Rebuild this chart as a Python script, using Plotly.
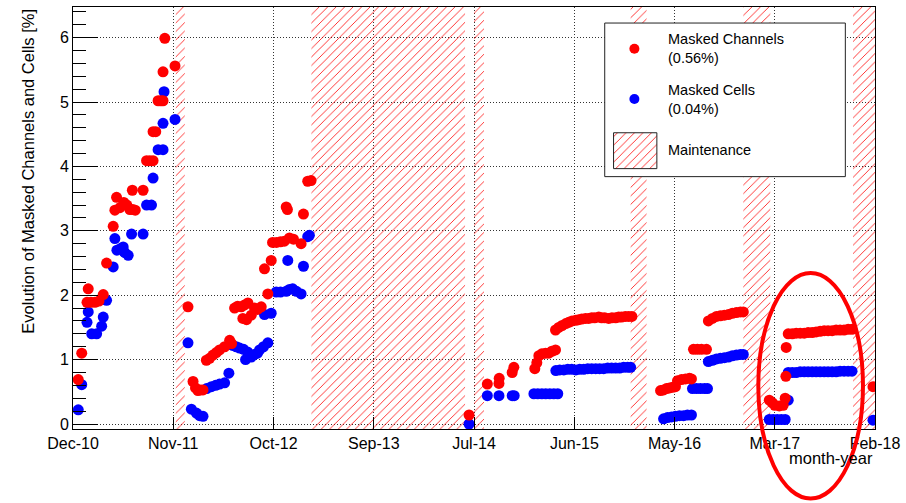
import plotly.graph_objects as go

# ---------------- axis definitions (decimal years; ROOT time axis, equally spaced labels)
tick_labels = ["Dec-10", "Nov-11", "Oct-12", "Sep-13", "Jul-14", "Jun-15", "May-16", "Mar-17", "Feb-18"]
tick_years = [2010.984, 2011.879, 2012.775, 2013.670, 2014.565, 2015.461, 2016.356, 2017.251, 2018.146]
x_range = [2010.984, 2018.146]
y_range = [-0.0775, 6.476]

# ---------------- maintenance periods (decimal years)
maint_start = [2011.902, 2013.113, 2014.565, 2015.964, 2016.970, 2017.950]
maint_end = [2011.982, 2014.485, 2014.654, 2016.106, 2017.211, 2018.146]

# ---------------- masked channels [%]
channels_year = [
    2011.031, 2011.062, 2011.109, 2011.120, 2011.144, 2011.180, 2011.216, 2011.254, 2011.284, 2011.343,
    2011.358, 2011.373, 2011.403, 2011.438, 2011.465, 2011.492, 2011.518, 2011.540, 2011.514, 2011.610,
    2011.641, 2011.670, 2011.699, 2011.699, 2011.723, 2011.744, 2011.768, 2011.788, 2011.788, 2011.804,
    2011.895,
    2012.011, 2012.056, 2012.078, 2012.100, 2012.125, 2012.145, 2012.175, 2012.204, 2012.234, 2012.264,
    2012.293, 2012.338, 2012.383, 2012.400, 2012.427, 2012.454, 2012.487, 2012.516, 2012.546, 2012.501,
    2012.534, 2012.576, 2012.605, 2012.632, 2012.665, 2012.724, 2012.694, 2012.754, 2012.766, 2012.801,
    2012.837, 2012.872, 2012.917, 2012.953, 2013.021, 2012.888, 2012.899, 2013.042, 2013.080, 2013.110,
    2014.521, 2014.684, 2014.788, 2014.790, 2014.906, 2014.921, 2015.108, 2015.126, 2015.144, 2015.171,
    2015.204, 2015.233, 2015.260, 2015.293,
    2015.293, 2015.322, 2015.352, 2015.385, 2015.411, 2015.441, 2015.474, 2015.500, 2015.527, 2015.560,
    2015.589, 2015.616, 2015.643, 2015.679, 2015.705, 2015.732, 2015.768, 2015.797, 2015.830, 2015.857,
    2015.883, 2015.916, 2015.946, 2015.975,
    2016.231, 2016.258, 2016.284, 2016.311, 2016.338, 2016.364, 2016.382, 2016.418, 2016.454, 2016.489,
    2016.507, 2016.525, 2016.560, 2016.596, 2016.641,
    2016.658, 2016.694, 2016.730, 2016.765, 2016.801, 2016.837, 2016.872, 2016.908, 2016.944, 2016.970,
    2017.202, 2017.229, 2017.251, 2017.291, 2017.326, 2017.344, 2017.350, 2017.353,
    2017.371, 2017.407, 2017.442, 2017.478, 2017.514, 2017.549, 2017.585, 2017.620, 2017.656, 2017.692,
    2017.727, 2017.763, 2017.799, 2017.834, 2017.870, 2017.906, 2017.941,
    2018.128,
]
channels_pct = [
    0.69, 1.10, 1.89, 2.10, 1.89, 1.89, 1.91, 2.01, 2.50, 3.07,
    3.32, 3.52, 3.36, 3.44, 3.40, 3.33, 3.33, 3.32, 3.63, 3.63,
    4.09, 4.09, 4.09, 4.54, 4.54, 5.02, 5.02, 5.02, 5.47, 5.99,
    5.56,
    1.82, 0.66, 0.56, 0.52, 0.53, 0.53, 0.99, 1.02, 1.07, 1.11,
    1.15, 1.20, 1.30, 1.25, 1.80, 1.83, 1.82, 1.85, 1.88, 1.64,
    1.62, 1.69, 1.80, 1.78, 1.82, 2.02, 2.41, 2.54, 2.82, 2.82,
    2.83, 2.84, 2.89, 2.87, 2.80, 3.37, 3.33, 3.26, 3.77, 3.78,
    0.14, 0.62, 0.63, 0.71, 0.80, 0.88, 0.86, 0.95, 1.06, 1.09,
    1.10, 1.10, 1.13, 1.15,
    1.46, 1.50, 1.53, 1.56, 1.58, 1.60, 1.61, 1.62, 1.63, 1.64,
    1.64, 1.65, 1.65, 1.66, 1.65, 1.65, 1.64, 1.65, 1.65, 1.66,
    1.66, 1.67, 1.67, 1.67,
    0.52, 0.53, 0.55, 0.56, 0.57, 0.58, 0.67, 0.69, 0.70, 0.71,
    0.70, 1.16, 1.16, 1.16, 1.16,
    1.60, 1.64, 1.67, 1.68, 1.69, 1.70, 1.72, 1.73, 1.74, 1.74,
    0.37, 0.33, 0.29, 0.28, 0.29, 0.40, 0.74, 1.19,
    1.40, 1.40, 1.41, 1.41, 1.41, 1.42, 1.42, 1.43, 1.44, 1.45,
    1.45, 1.45, 1.46, 1.46, 1.46, 1.47, 1.47,
    0.58,
]

# ---------------- masked cells [%]
cells_year = [
    2011.031, 2011.062, 2011.109, 2011.120, 2011.151, 2011.195, 2011.240, 2011.254, 2011.284, 2011.343,
    2011.358, 2011.376, 2011.405, 2011.432, 2011.447, 2011.477, 2011.507, 2011.610, 2011.641, 2011.685,
    2011.699, 2011.744, 2011.788, 2011.788, 2011.797, 2011.895,
    2012.011, 2012.041, 2012.086, 2012.115, 2012.145, 2012.178, 2012.220, 2012.258, 2012.293, 2012.338,
    2012.376, 2012.409, 2012.442, 2012.472, 2012.507, 2012.525, 2012.543, 2012.576, 2012.605, 2012.632,
    2012.650, 2012.685, 2012.724, 2012.694, 2012.754, 2012.799, 2012.837, 2012.888, 2012.917, 2012.946,
    2012.979, 2013.021, 2012.902, 2013.042, 2013.080, 2013.095,
    2014.521, 2014.684, 2014.788, 2014.906, 2014.924,
    2015.100, 2015.135, 2015.171, 2015.206, 2015.242, 2015.278, 2015.313,
    2015.296, 2015.331, 2015.367, 2015.402, 2015.438, 2015.474, 2015.509, 2015.545, 2015.581, 2015.616,
    2015.652, 2015.687, 2015.723, 2015.759, 2015.794, 2015.830, 2015.866, 2015.901, 2015.937, 2015.964,
    2016.258, 2016.293, 2016.329, 2016.364, 2016.400, 2016.436, 2016.471, 2016.507,
    2016.516, 2016.552, 2016.587, 2016.623, 2016.650,
    2016.658, 2016.694, 2016.730, 2016.765, 2016.801, 2016.837, 2016.872, 2016.908, 2016.944, 2016.970,
    2017.202, 2017.237, 2017.273, 2017.309, 2017.344, 2017.371,
    2017.371, 2017.407, 2017.442, 2017.478, 2017.514, 2017.549, 2017.585, 2017.620, 2017.656, 2017.692,
    2017.727, 2017.763, 2017.799, 2017.834, 2017.870, 2017.906, 2017.941,
    2018.128,
]
cells_pct = [
    0.22, 0.61, 1.58, 1.74, 1.40, 1.40, 1.52, 1.66, 1.92, 2.44,
    2.88, 2.70, 2.72, 2.75, 2.66, 2.62, 2.95, 2.95, 3.40, 3.40,
    3.82, 4.26, 4.26, 4.67, 5.16, 4.73,
    1.26, 0.23, 0.17, 0.13, 0.12, 0.55, 0.58, 0.60, 0.62, 0.64,
    0.79, 1.22, 1.20, 1.18, 1.16, 1.00, 1.12, 1.04, 1.08, 1.10,
    1.15, 1.20, 1.26, 1.70, 1.72, 2.05, 2.05, 2.06, 2.09, 2.10,
    2.06, 2.02, 2.54, 2.45, 2.91, 2.93,
    0.00, 0.44, 0.44, 0.44, 0.44,
    0.47, 0.47, 0.47, 0.47, 0.47, 0.47, 0.47,
    0.83, 0.84, 0.84, 0.85, 0.85, 0.84, 0.85, 0.85, 0.86, 0.86,
    0.86, 0.86, 0.86, 0.87, 0.87, 0.87, 0.87, 0.88, 0.88, 0.88,
    0.08, 0.10, 0.11, 0.12, 0.13, 0.13, 0.14, 0.14,
    0.55, 0.55, 0.55, 0.55, 0.55,
    0.97, 0.99, 1.01, 1.02, 1.03, 1.04, 1.06, 1.07, 1.08, 1.08,
    0.07, 0.07, 0.07, 0.07, 0.07, 0.37,
    0.80, 0.80, 0.80, 0.81, 0.81, 0.81, 0.81, 0.81, 0.81, 0.81,
    0.81, 0.81, 0.81, 0.82, 0.82, 0.82, 0.82,
    0.06,
]

legend_labels = ["Masked Channels<br>(0.56%)", "Masked Cells<br>(0.04%)", "Maintenance"]

FONT = "Liberation Sans, Arial, Helvetica, sans-serif"
RED = "#ff0000"
BLUE = "#0000ff"

fig = go.Figure()

# maintenance hatched bands
fig.add_trace(go.Bar(
    x=[(s + e) / 2 for s, e in zip(maint_start, maint_end)],
    y=[y_range[1] - y_range[0]] * len(maint_start),
    base=y_range[0],
    width=[e - s for s, e in zip(maint_start, maint_end)],
    marker=dict(color="rgba(0,0,0,0)", line=dict(width=0),
                pattern=dict(shape="/", fgcolor=RED, bgcolor="rgba(0,0,0,0)", fgopacity=1,
                             size=6, solidity=0.13, fillmode="overlay")),
    hoverinfo="skip",
))

fig.add_trace(go.Scatter(x=cells_year, y=cells_pct, mode="markers",
                         marker=dict(color=BLUE, size=11, line=dict(width=0))))
fig.add_trace(go.Scatter(x=channels_year, y=channels_pct, mode="markers",
                         marker=dict(color=RED, size=11, line=dict(width=0))))

# ---- hand-made ROOT style legend on an overlay axis (fractions of the frame)
lx0, lx1, ly0, ly1 = 0.663, 0.963, 0.598, 0.962
fig.add_trace(go.Scatter(x=[lx0, lx1, lx1, lx0, lx0], y=[ly0, ly0, ly1, ly1, ly0],
                         xaxis="x2", yaxis="y2", mode="lines", fill="toself",
                         fillcolor="white", line=dict(color="#222", width=1), hoverinfo="skip"))
fig.add_trace(go.Scatter(x=[0.700], y=[0.901], xaxis="x2", yaxis="y2", mode="markers",
                         marker=dict(color=RED, size=10)))
fig.add_trace(go.Scatter(x=[0.700], y=[0.782], xaxis="x2", yaxis="y2", mode="markers",
                         marker=dict(color=BLUE, size=10)))
hx0, hx1, hy0, hy1 = 0.674, 0.728, 0.617, 0.702
fig.add_trace(go.Scatter(x=[hx0, hx1, hx1, hx0, hx0], y=[hy0, hy0, hy1, hy1, hy0],
                         xaxis="x2", yaxis="y2", mode="lines", fill="toself",
                         fillcolor="white",
                         fillpattern=dict(shape="/", fgcolor=RED, bgcolor="white", fgopacity=1,
                                          size=6, solidity=0.13),
                         line=dict(color="#222", width=1), hoverinfo="skip"))

annotations = []
for lab, yy in zip(legend_labels, [0.901, 0.780, 0.660]):
    annotations.append(dict(x=0.739, y=yy, xref="paper", yref="paper", text=lab,
                            showarrow=False, xanchor="left", yanchor="middle", align="left",
                            font=dict(family=FONT, size=14.5, color="black")))
annotations.append(dict(x=-0.0572, y=0.610, xref="paper", yref="paper",
                        text="Evolution of Masked Channels and Cells [%]", textangle=-90,
                        showarrow=False, xanchor="center", yanchor="middle",
                        font=dict(family=FONT, size=16.5, color="black")))
annotations.append(dict(x=1.0, y=-0.0686, xref="paper", yref="paper", text="month-year",
                        showarrow=False, xanchor="right", yanchor="middle",
                        font=dict(family=FONT, size=16.5, color="black")))

grid = dict(showgrid=True, gridcolor="#333", gridwidth=1, griddash="1px,2px")

fig.update_layout(
    width=906, height=503,
    margin=dict(l=73, r=29, t=6, b=74),
    paper_bgcolor="white", plot_bgcolor="white",
    showlegend=False, barmode="overlay",
    font=dict(family=FONT, size=16, color="black"),
    xaxis=dict(range=x_range, tickvals=tick_years, ticktext=tick_labels,
               ticks="inside", ticklen=12, tickcolor="black", tickwidth=1,
               showline=True, linecolor="black", linewidth=1, mirror=True,
               zeroline=False, tickfont=dict(size=16), **grid),
    yaxis=dict(range=y_range, tick0=0, dtick=1, ticks="inside", ticklen=25,
               tickcolor="black", tickwidth=1,
               minor=dict(dtick=0.2, tick0=0, ticks="inside", ticklen=13,
                          tickcolor="black", showgrid=False),
               showline=True, linecolor="black", linewidth=1, mirror=True,
               zeroline=False, tickfont=dict(size=16), **grid),
    xaxis2=dict(overlaying="x", range=[0, 1], visible=False),
    yaxis2=dict(overlaying="y", range=[0, 1], visible=False),
    annotations=annotations,
    shapes=[dict(type="circle", xref="paper", yref="paper",
                 x0=0.8545, x1=0.985, y0=-0.1648, y1=0.3695,
                 line=dict(color=RED, width=4))],
)

fig.write_html("out.html", config={"displayModeBar": False},
               post_script="document.body.style.margin='0px';document.body.style.overflow='hidden';")
